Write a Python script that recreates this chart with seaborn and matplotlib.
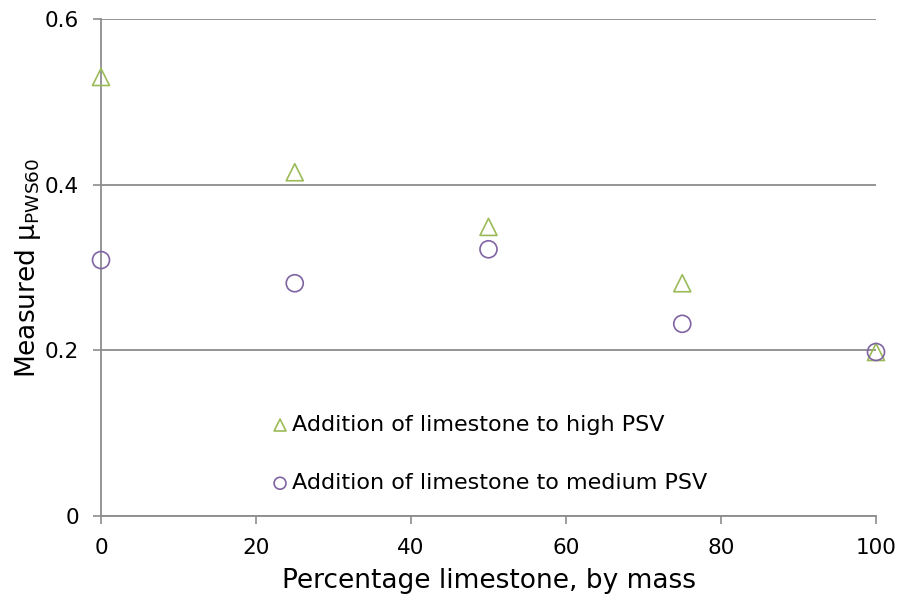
import matplotlib
matplotlib.use("Agg")
import matplotlib.pyplot as plt
import seaborn as sns
import pandas as pd

limestone_pct = [0, 25, 50, 75, 100]
high_psv = [0.530, 0.415, 0.349, 0.281, 0.198]
medium_psv = [0.309, 0.281, 0.322, 0.232, 0.198]
series_names = ["Addition of limestone to high PSV", "Addition of limestone to medium PSV"]
x_ticks = [0, 20, 40, 60, 80, 100]
y_ticks = [0, 0.2, 0.4, 0.6]
y_tick_labels = ["0", "0.2", "0.4", "0.6"]

df = pd.DataFrame({
    "x": limestone_pct * 2,
    "y": high_psv + medium_psv,
    "series": [series_names[0]] * 5 + [series_names[1]] * 5,
})

sns.set_style("white")
plt.rcParams['font.family'] = ['DejaVu Sans']
plt.rcParams['text.color'] = 'black'
plt.rcParams['axes.labelcolor'] = 'black'

fig = plt.figure(figsize=(9.01, 6.03), dpi=100)
ax = fig.add_axes([101/901, 1 - 516/603, 775/901, 497/603])

green = "#9BBB59"
purple = "#8064A2"
palette = {series_names[0]: green, series_names[1]: purple}
markers = {series_names[0]: "^", series_names[1]: "o"}

for name in series_names:
    sub = df[df["series"] == name]
    sns.scatterplot(data=sub, x="x", y="y", ax=ax, marker=markers[name],
                    s=150, facecolors="none", edgecolor=palette[name],
                    linewidth=1.2, label=name, zorder=3, clip_on=False)

ax.set_xlim(0, 100)
ax.set_ylim(0, 0.6)
ax.set_xticks(x_ticks)
ax.set_yticks(y_ticks)
ax.set_yticklabels(y_tick_labels)
ax.yaxis.grid(True, color="#8c8c8c", linewidth=1.3)
ax.set_axisbelow(True)
for s in ["top", "right"]:
    ax.spines[s].set_visible(False)
for s in ["left", "bottom"]:
    ax.spines[s].set_color("#8c8c8c")
    ax.spines[s].set_linewidth(1.3)
ax.tick_params(axis="both", direction="out", length=6, width=1.2, color="#8c8c8c",
               labelsize=15.5, labelcolor="black", pad=10)
ax.tick_params(axis="y", left=True)
ax.tick_params(axis="x", bottom=True)

ax.set_xlabel("Percentage limestone, by mass", fontsize=19, labelpad=7)
ax.set_ylabel(r"Measured μ$_\mathregular{PWS60}$", fontsize=19, labelpad=1)

leg = ax.legend(loc="center left", bbox_to_anchor=(0.221, 0.1248), frameon=False,
                fontsize=16, handlelength=0.7, handletextpad=0.2, labelspacing=1.72,
                borderpad=0, borderaxespad=0, markerscale=0.7)

fig.savefig("out.png", dpi=100)
